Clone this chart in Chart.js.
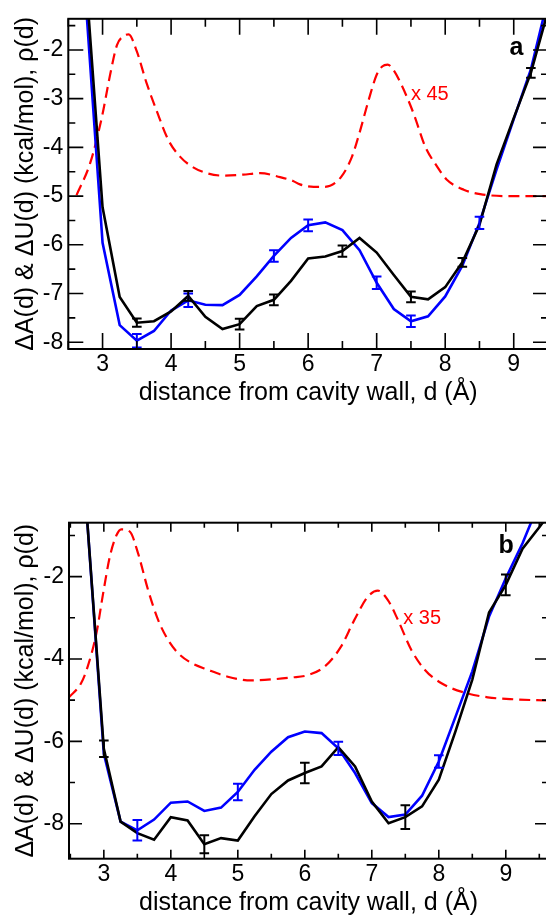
<!DOCTYPE html>
<html><head><meta charset="utf-8">
<script src="https://cdn.jsdelivr.net/npm/chart.js@4.4.1/dist/chart.umd.min.js"></script>
<style>
html,body{margin:0;padding:0;background:#fff;overflow:hidden;width:546px;height:918px}
#wrapA{position:absolute;left:0;top:0;width:548px;height:420px}
#wrapB{position:absolute;left:0;top:500px;width:548px;height:418px}
canvas{display:block}
</style></head><body>
<div id="wrapA"><canvas id="cA" width="548" height="420"></canvas></div>
<div id="wrapB"><canvas id="cB" width="548" height="418"></canvas></div>
<script>
// ---------- shared ----------
const xTitle = 'distance from cavity wall, d (Å)';
const yTitle = 'ΔA(d) & ΔU(d) (kcal/mol), ρ(d)';
const xMajorTicks = [3, 4, 5, 6, 7, 8, 9];
const xMinorTicks = [2.5, 3.5, 4.5, 5.5, 6.5, 7.5, 8.5, 9.5];

// distance grid for the A(d) / U(d) curves
const dist = [2.75,3.00,3.25,3.50,3.75,4.00,4.25,4.50,4.75,5.00,5.25,5.50,5.75,6.00,6.25,6.50,6.75,7.00,7.25,7.50,7.75,8.00,8.25,8.50,8.75,9.00,9.25,9.50,9.75];

// ---------- panel a ----------
const blackA = [-0.40,-5.23,-7.07,-7.60,-7.57,-7.37,-7.05,-7.48,-7.73,-7.63,-7.26,-7.13,-6.74,-6.28,-6.24,-6.13,-5.86,-6.16,-6.62,-7.07,-7.12,-6.87,-6.36,-5.59,-4.35,-3.40,-2.47,-1.20,0.00];
const blueA  = [-0.90,-5.96,-7.65,-7.97,-7.77,-7.35,-7.14,-7.23,-7.24,-7.03,-6.65,-6.23,-5.86,-5.60,-5.54,-5.70,-6.11,-6.78,-7.32,-7.57,-7.47,-7.06,-6.43,-5.55,-4.45,-3.42,-2.40,-0.95,0.50];
const rhoA_d = [2.62,2.82,2.99,3.11,3.21,3.30,3.38,3.50,3.64,3.79,3.96,4.13,4.30,4.52,4.76,5.05,5.30,5.59,5.78,5.88,6.08,6.22,6.32,6.49,6.64,6.76,6.88,7.00,7.08,7.16,7.24,7.37,7.54,7.71,7.88,8.02,8.27,8.51,8.90,9.50];
const rhoA   = [-4.98,-4.32,-3.38,-2.51,-1.90,-1.72,-1.68,-2.03,-2.67,-3.25,-3.85,-4.19,-4.39,-4.53,-4.58,-4.56,-4.53,-4.61,-4.69,-4.76,-4.81,-4.81,-4.79,-4.59,-4.19,-3.65,-3.04,-2.51,-2.34,-2.30,-2.40,-2.74,-3.31,-3.99,-4.39,-4.66,-4.87,-4.96,-5.00,-5.00];
const errBlackA_d = [3.5,4.25,5.0,5.5,6.5,7.5,8.25,9.25];
const errBlackA   = [0.085,0.10,0.11,0.11,0.115,0.11,0.09,0.10];
const errBlueA_d  = [3.5,4.25,5.5,6.0,7.0,7.5,8.5];
const errBlueA    = [0.14,0.14,0.12,0.12,0.13,0.12,0.125];
const yMajorA = [-8,-7,-6,-5,-4,-3,-2];
const yMinorA = [-7.5,-6.5,-5.5,-4.5,-3.5,-2.5,-1.5];
const scaleNoteA = 'x 45';

// ---------- panel b ----------
const blackB = [-0.60,-6.18,-7.95,-8.23,-8.39,-7.84,-7.92,-8.50,-8.35,-8.41,-7.82,-7.28,-6.95,-6.77,-6.61,-6.14,-6.61,-7.46,-7.99,-7.84,-7.58,-6.93,-5.75,-4.50,-2.87,-2.20,-1.32,-0.80,-0.25];
const blueB  = [-0.60,-6.30,-7.95,-8.16,-7.90,-7.49,-7.46,-7.69,-7.61,-7.23,-6.69,-6.25,-5.90,-5.76,-5.80,-6.17,-6.77,-7.50,-7.84,-7.78,-7.32,-6.49,-5.40,-4.30,-2.97,-2.04,-1.19,-0.20,0.50];
const rhoB_d = [2.48,2.66,2.76,2.89,2.99,3.09,3.19,3.26,3.39,3.51,3.66,3.81,3.96,4.11,4.31,4.55,4.85,5.20,5.55,5.80,6.05,6.30,6.54,6.74,6.94,7.09,7.24,7.39,7.59,7.79,8.04,8.39,8.73,9.13,9.65];
const rhoB   = [-4.93,-4.59,-4.18,-3.37,-2.40,-1.51,-0.99,-0.85,-0.91,-1.43,-2.32,-3.05,-3.54,-3.86,-4.10,-4.26,-4.43,-4.52,-4.49,-4.45,-4.39,-4.18,-3.70,-3.05,-2.49,-2.34,-2.57,-3.05,-3.78,-4.26,-4.59,-4.82,-4.93,-4.98,-5.01];
const errBlackB_d = [3.0,4.5,6.0,7.5,9.0];
const errBlackB   = [0.20,0.22,0.25,0.29,0.25];
const errBlueB_d  = [3.5,5.0,6.5,8.0];
const errBlueB    = [0.25,0.20,0.16,0.15];
const yMajorB = [-8,-6,-4,-2];
const yMinorB = [-7,-5,-3,-1];
const scaleNoteB = 'x 35';

// ---------- drawing helpers ----------
const FONT = "'Liberation Sans', Arial, Helvetica, sans-serif";
Chart.defaults.font.family = FONT;
const zip = (xs, ys) => xs.map((v, i) => ({x: v, y: ys[i]}));

const frameTicks = {
  id: 'frameTicks',
  afterDatasetsDraw(chart, args, o) {
    const {ctx, chartArea: ca, scales: {x, y}} = chart;
    ctx.save();
    // error bars
    o.errorBars.forEach(eb => {
      ctx.strokeStyle = eb.color; ctx.lineWidth = 2; ctx.lineCap = 'butt';
      eb.xs.forEach((xv, i) => {
        const yv = eb.seriesY[eb.seriesX.indexOf(xv)];
        const px = x.getPixelForValue(xv);
        const y1 = y.getPixelForValue(yv - eb.err[i]);
        const y2 = y.getPixelForValue(yv + eb.err[i]);
        ctx.beginPath();
        ctx.moveTo(px, y1); ctx.lineTo(px, y2);
        ctx.moveTo(px - o.cap, y1); ctx.lineTo(px + o.cap, y1);
        ctx.moveTo(px - o.cap, y2); ctx.lineTo(px + o.cap, y2);
        ctx.stroke();
      });
    });
    // frame
    ctx.strokeStyle = '#000'; ctx.lineWidth = 2;
    ctx.strokeRect(ca.left, ca.top, ca.right - ca.left, ca.bottom - ca.top);
    // ticks on all four sides, pointing inward
    ctx.lineWidth = 1.6;
    ctx.beginPath();
    const xt = (vals, len) => vals.forEach(v => {
      const p = x.getPixelForValue(v);
      if (p < ca.left - 0.5 || p > ca.right + 0.5) return;
      ctx.moveTo(p, ca.bottom); ctx.lineTo(p, ca.bottom - len);
      ctx.moveTo(p, ca.top); ctx.lineTo(p, ca.top + len);
    });
    const yt = (vals, len) => vals.forEach(v => {
      const p = y.getPixelForValue(v);
      if (p < ca.top - 0.5 || p > ca.bottom + 0.5) return;
      ctx.moveTo(ca.left, p); ctx.lineTo(ca.left + len, p);
      ctx.moveTo(ca.right, p); ctx.lineTo(ca.right - len, p);
    });
    xt(o.xMajor, o.xMajLen); xt(o.xMinor, o.xMinLen);
    yt(o.yMajor, o.yMajLen); yt(o.yMinor, o.yMinLen);
    ctx.stroke();
    // annotations
    ctx.textBaseline = 'alphabetic'; ctx.textAlign = 'left';
    ctx.fillStyle = '#ff0000'; ctx.font = '20px ' + FONT;
    ctx.fillText(o.note.text, x.getPixelForValue(o.note.x), y.getPixelForValue(o.note.y));
    ctx.fillStyle = '#000'; ctx.font = 'bold 25px ' + FONT;
    ctx.fillText(o.panel.text, x.getPixelForValue(o.panel.x), y.getPixelForValue(o.panel.y));
    ctx.restore();
  }
};

function makePanel(id, p) {
  return new Chart(document.getElementById(id), {
    type: 'line',
    data: {datasets: [
      {data: zip(p.rhoX, p.rhoY), borderColor: '#ff0000', borderWidth: 2.2, borderDash: [11, 6],
       pointRadius: 0, cubicInterpolationMode: 'monotone', order: 3},
      {data: zip(dist, p.blue), borderColor: '#0000ff', borderWidth: 2.6, pointRadius: 0, tension: 0, order: 2},
      {data: zip(dist, p.black), borderColor: '#000000', borderWidth: 2.6, pointRadius: 0, tension: 0, order: 1}
    ]},
    options: {
      responsive: false, animation: false, devicePixelRatio: 1,
      layout: {padding: {top: p.padTop, left: 0, right: 0, bottom: 0}},
      plugins: {
        legend: {display: false}, tooltip: {enabled: false},
        frameTicks: {
          errorBars: [
            {color: '#0000ff', xs: p.errBlueX, err: p.errBlue, seriesX: dist, seriesY: p.blue},
            {color: '#000000', xs: p.errBlackX, err: p.errBlack, seriesX: dist, seriesY: p.black}
          ],
          cap: 4.8,
          xMajor: xMajorTicks, xMinor: xMinorTicks, yMajor: p.yMajor, yMinor: p.yMinor,
          xMajLen: p.xMajLen, xMinLen: p.xMinLen, yMajLen: p.yMajLen, yMinLen: p.yMinLen,
          note: p.note, panel: p.panel
        }
      },
      scales: {
        x: {
          type: 'linear', min: p.xMin, max: p.xMax,
          afterBuildTicks: s => { s.ticks = xMajorTicks.map(v => ({value: v})); },
          afterFit: s => { s.height = p.xAxisH; },
          grid: {display: false, drawTicks: false}, border: {display: false},
          ticks: {font: {size: 23}, color: '#000', padding: 2, maxRotation: 0, autoSkip: false,
                  callback: v => String(v)},
          title: {display: true, text: xTitle, color: '#000', font: {size: 25},
                  padding: {top: 0, bottom: p.xTitlePad}}
        },
        y: {
          type: 'linear', min: p.yMin, max: p.yMax,
          afterBuildTicks: s => { s.ticks = p.yMajor.map(v => ({value: v})); },
          afterFit: s => { s.width = p.yAxisW; },
          grid: {display: false, drawTicks: false}, border: {display: false},
          ticks: {font: {size: 23}, color: '#000', padding: 5, autoSkip: false,
                  callback: v => String(v)},
          title: {display: true, text: yTitle, color: '#000', font: {size: 25},
                  padding: {top: 11, bottom: 0}}
        }
      }
    },
    plugins: [frameTicks]
  });
}

makePanel('cA', {
  black: blackA, blue: blueA, rhoX: rhoA_d, rhoY: rhoA,
  errBlackX: errBlackA_d, errBlack: errBlackA, errBlueX: errBlueA_d, errBlue: errBlueA,
  yMajor: yMajorA, yMinor: yMinorA,
  xMin: 2.5, xMax: 9.5, yMin: -8.14, yMax: -1.36,
  padTop: 13.5, yAxisW: 68.3, xAxisH: 71, xTitlePad: 12,
  xMajLen: 16, xMinLen: 8, yMajLen: 15, yMinLen: 7,
  note: {text: scaleNoteA, x: 7.5, y: -3.03},
  panel: {text: 'a', x: 8.94, y: -2.1}
});
makePanel('cB', {
  black: blackB, blue: blueB, rhoX: rhoB_d, rhoY: rhoB,
  errBlackX: errBlackB_d, errBlack: errBlackB, errBlueX: errBlueB_d, errBlue: errBlueB,
  yMajor: yMajorB, yMinor: yMinorB,
  xMin: 2.48, xMax: 9.63, yMin: -8.85, yMax: -0.69,
  padTop: 22.7, yAxisW: 69, xAxisH: 59.3, xTitlePad: 0,
  xMajLen: 9, xMinLen: 5, yMajLen: 13, yMinLen: 6,
  note: {text: scaleNoteB, x: 7.47, y: -3.15},
  panel: {text: 'b', x: 8.89, y: -1.42}
});
</script>
</body></html>
